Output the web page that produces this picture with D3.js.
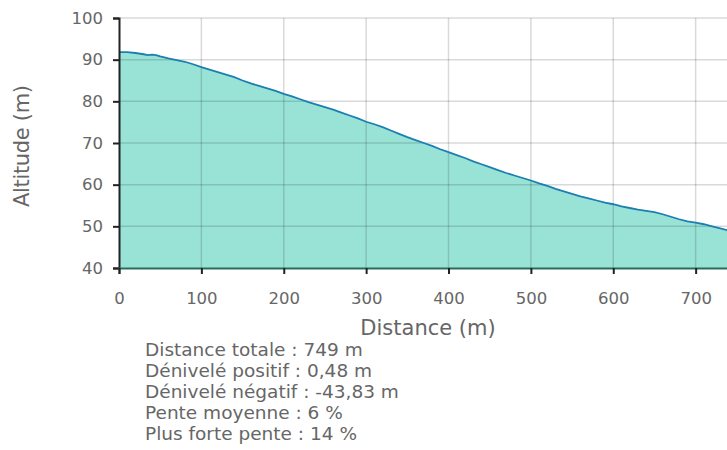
<!DOCTYPE html>
<html>
<head>
<meta charset="utf-8">
<script src="https://cdn.jsdelivr.net/npm/d3@7"></script>
<style>
  html, body { margin: 0; padding: 0; background: #fff; overflow: hidden; }
  svg { display: block; }
</style>
</head>
<body>
<svg id="chart" width="760" height="450"></svg>
<script>
// profile
const distances = [0, 10, 20, 30, 35, 40, 45, 50, 60, 70, 80, 90, 100, 110, 120, 130, 140, 150, 160, 170, 180, 190,
  200, 210, 220, 230, 240, 250, 260, 270, 280, 290, 300, 310, 320, 330, 340, 350, 360, 370, 380, 390,
  400, 410, 420, 430, 440, 450, 460, 470, 480, 490, 500, 510, 520, 530, 540, 550, 560, 570, 580, 590,
  600, 610, 620, 630, 640, 650, 660, 670, 680, 690, 700, 710, 720, 730, 740, 749];
const altitudes = [91.8, 91.8, 91.6, 91.3, 91.1, 91.2, 91.1, 90.8, 90.3, 89.9, 89.5, 88.9, 88.2, 87.6, 87.0, 86.4, 85.8, 85.0, 84.3, 83.7, 83.1, 82.5,
  81.8, 81.2, 80.5, 79.8, 79.2, 78.6, 78.0, 77.3, 76.6, 75.9, 75.1, 74.5, 73.8, 73.0, 72.2, 71.4, 70.7, 70.0, 69.3, 68.5,
  67.8, 67.1, 66.4, 65.6, 64.9, 64.2, 63.5, 62.8, 62.2, 61.6, 61.0, 60.3, 59.7, 59.0, 58.4, 57.8, 57.2, 56.7, 56.2, 55.7,
  55.3, 54.8, 54.4, 54.0, 53.7, 53.4, 52.9, 52.3, 51.7, 51.2, 50.9, 50.5, 50.0, 49.5, 49.0, 48.5];
const xTicks = [0, 100, 200, 300, 400, 500, 600, 700];
const yTicks = [40, 50, 60, 70, 80, 90, 100];
const statLines = [
  "Distance totale : 749 m",
  "Dénivelé positif : 0,48 m",
  "Dénivelé négatif : -43,83 m",
  "Pente moyenne : 6 %",
  "Plus forte pente : 14 %"
];

const points = distances.map((d, i) => ({ d: d, a: altitudes[i] }));
const font = "Verdana, 'DejaVu Sans', sans-serif";

const svg = d3.select('#chart');
const marginLeft = 119, marginTop = 18, plotW = 617, plotH = 250;

const x = d3.scaleLinear().domain([0, 749]).range([0, plotW]);
const y = d3.scaleLinear().domain([40, 100]).range([plotH, 0]);

const g = svg.append('g').attr('transform', `translate(${marginLeft},${marginTop})`);

const area = d3.area()
    .x(p => x(p.d))
    .y0(plotH)
    .y1(p => y(p.a));
const line = d3.line()
    .x(p => x(p.d))
    .y(p => y(p.a));

g.append('path')
    .datum(points)
    .attr('d', area)
    .attr('fill', '#99e3d6');

// grid on top of the fill
g.append('g')
    .selectAll('line')
    .data(xTicks.filter(t => t > 0))
    .join('line')
    .attr('x1', d => x(d)).attr('x2', d => x(d))
    .attr('y1', 0).attr('y2', plotH)
    .attr('stroke', 'rgba(0,0,0,0.15)')
    .attr('stroke-width', 1.5);
g.append('g')
    .selectAll('line')
    .data(yTicks.filter(t => t > 40))
    .join('line')
    .attr('x1', 0).attr('x2', plotW)
    .attr('y1', d => y(d)).attr('y2', d => y(d))
    .attr('stroke', 'rgba(0,0,0,0.15)')
    .attr('stroke-width', 1.5);

g.append('path')
    .datum(points)
    .attr('d', line)
    .attr('fill', 'none')
    .attr('stroke', '#1b7fb2')
    .attr('stroke-width', 1.8);

const yAxis = g.append('g')
    .call(d3.axisLeft(y).tickValues(yTicks).tickSize(6).tickPadding(10).tickFormat(d3.format('d')));
const xAxis = g.append('g')
    .attr('transform', `translate(0,${plotH})`)
    .call(d3.axisBottom(x).tickValues(xTicks).tickSize(6).tickPadding(18).tickFormat(d3.format('d')));

[yAxis, xAxis].forEach(ax => {
  ax.select('.domain').attr('stroke', '#222').attr('stroke-width', 2);
  ax.selectAll('.tick line').attr('stroke', '#222').attr('stroke-width', 2);
  ax.selectAll('.tick text').attr('fill', '#666').style('font-family', font).style('font-size', '16.5px');
});
xAxis.select('.domain').attr('stroke', '#2c6b5e');

svg.append('text')
    .attr('transform', `translate(29,${marginTop + 128}) rotate(-90)`)
    .attr('text-anchor', 'middle')
    .attr('fill', '#666')
    .attr('textLength', 122)
    .attr('lengthAdjust', 'spacing')
    .style('font-family', font)
    .style('font-size', '21px')
    .text('Altitude (m)');

svg.append('text')
    .attr('x', 428)
    .attr('y', 335)
    .attr('text-anchor', 'middle')
    .attr('fill', '#666')
    .style('font-family', font)
    .style('font-size', '21px')
    .text('Distance (m)');

svg.append('g')
    .selectAll('text')
    .data(statLines)
    .join('text')
    .attr('x', 145)
    .attr('y', (d, i) => 356 + i * 21)
    .attr('fill', '#666')
    .style('font-family', font)
    .style('font-size', '18.5px')
    .text(d => d);
</script>
</body>
</html>
